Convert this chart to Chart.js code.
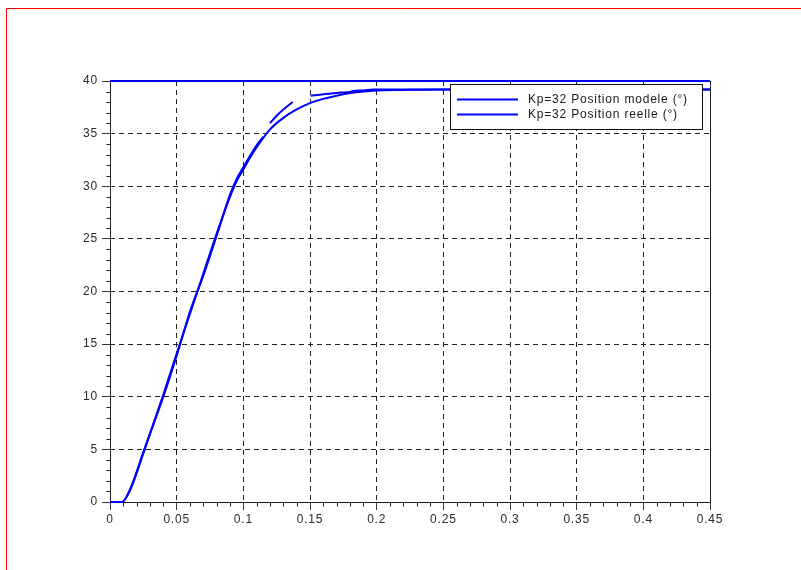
<!DOCTYPE html>
<html>
<head>
<meta charset="utf-8">
<script src="https://cdn.jsdelivr.net/npm/chart.js@4.4.1/dist/chart.umd.min.js"></script>
<style>
  html, body { margin: 0; padding: 0; background: #fff; }
  canvas { display: block; }
</style>
</head>
<body>
<canvas id="position_chart" width="801" height="570"></canvas>
<script>
// values (time in s, position in degrees)
const timeModel = [0, 0.009, 0.015, 0.026, 0.04, 0.05, 0.06, 0.07, 0.08, 0.09, 0.095, 0.1, 0.105, 0.11, 0.12, 0.13, 0.14, 0.15, 0.16, 0.17, 0.18, 0.19, 0.2, 0.22, 0.25, 0.3, 0.35, 0.4, 0.45];
const positionModel = [0, 0, 1.1, 5, 10.2, 14.1, 17.9, 21.7, 25.5, 29.0, 30.5, 31.6, 32.7, 33.7, 35.4, 36.5, 37.3, 37.9, 38.3, 38.6, 38.85, 39.0, 39.1, 39.15, 39.2, 39.2, 39.2, 39.2, 39.2];

// measured curve, null = hole in the trace
const timeReal = [0, 0.009, 0.015, 0.026, 0.04, 0.05, 0.06, 0.07, 0.08, 0.09, 0.095, 0.1, 0.105, 0.11, 0.115, 0.118, 0.12, 0.125, 0.13, 0.137, 0.145, 0.1505, 0.16, 0.17, 0.1725, 0.18, 0.182, 0.19, 0.197, 0.25, 0.3, 0.35, 0.4, 0.45];
const positionReal = [0, 0, 1.2, 5.1, 10.0, 13.9, 18.1, 21.5, 25.3, 29.2, 30.7, 31.8, 32.9, 33.9, 34.7, null, 36.0, 36.7, 37.3, 38.0, null, 38.6, 38.75, 38.85, 38.9, 38.95, 39.05, 39.1, 39.2, 39.2, 39.2, 39.2, 39.2, 39.2];

const timeSetpoint = [0, 0.45];
const positionSetpoint = [40, 40];

const seriesLabels = ['Kp=32 Position modele (°)', 'Kp=32 Position reelle (°)'];
const xTickLabels = ['0', '0.05', '0.1', '0.15', '0.2', '0.25', '0.3', '0.35', '0.4', '0.45'];
const yTickLabels = ['0', '5', '10', '15', '20', '25', '30', '35', '40'];

const blue = '#0000ff';
const fontFamily = '"Liberation Sans", Arial, sans-serif';

function toPoints(xs, ys) {
  return xs.map((x, i) => ({ x: x, y: ys[i] }));
}

// white page, red figure border, axes box, minor ticks, legend
const scilabLook = {
  id: 'scilabLook',
  beforeDraw(chart) {
    const ctx = chart.ctx;
    ctx.letterSpacing = '0.8px';
    ctx.save();
    ctx.fillStyle = '#fff';
    ctx.fillRect(0, 0, chart.width, chart.height);
    ctx.strokeStyle = '#ff0000';
    ctx.lineWidth = 1;
    ctx.beginPath();
    ctx.moveTo(6.5, chart.height);
    ctx.lineTo(6.5, 8.5);
    ctx.lineTo(chart.width, 8.5);
    ctx.stroke();
    ctx.restore();
  },
  beforeDatasetsDraw(chart) {
    const ctx = chart.ctx;
    const a = chart.chartArea;
    const xs = chart.scales.x;
    const ys = chart.scales.y;
    const l = Math.round(a.left) + 0.5, r = Math.round(a.right) + 0.5;
    const t = Math.round(a.top) + 0.5, b = Math.round(a.bottom) + 0.5;
    ctx.save();
    ctx.strokeStyle = '#222';
    ctx.lineWidth = 1;
    ctx.strokeRect(l, t, r - l, b - t);
    ctx.beginPath();
    for (let i = 0; i < xTickLabels.length - 1; i++) {
      for (let k = 1; k < 5; k++) {
        const px = Math.round(xs.getPixelForValue(0.05 * i + 0.01 * k)) + 0.5;
        ctx.moveTo(px, b);
        ctx.lineTo(px, b + 4);
      }
    }
    for (let i = 0; i < yTickLabels.length - 1; i++) {
      for (let k = 1; k < 5; k++) {
        const py = Math.round(ys.getPixelForValue(5 * i + k)) + 0.5;
        ctx.moveTo(l, py);
        ctx.lineTo(l - 4, py);
      }
    }
    ctx.stroke();
    ctx.restore();
  },
  afterDatasetsDraw(chart) {
    const ctx = chart.ctx;
    const a = chart.chartArea;
    const boxW = 252, boxH = 45;
    const bx = a.right - 8 - boxW;
    const by = a.top + 3;
    ctx.save();
    ctx.fillStyle = '#fff';
    ctx.fillRect(bx, by, boxW, boxH);
    ctx.strokeStyle = '#111';
    ctx.lineWidth = 1;
    ctx.strokeRect(bx + 0.5, by + 0.5, boxW, boxH);
    ctx.font = '12px ' + fontFamily;
    ctx.textBaseline = 'middle';
    ctx.textAlign = 'left';
    seriesLabels.forEach((label, i) => {
      const ly = by + 15.5 + i * 15;
      ctx.strokeStyle = blue;
      ctx.lineWidth = 2;
      ctx.beginPath();
      ctx.moveTo(bx + 7, ly);
      ctx.lineTo(bx + 68, ly);
      ctx.stroke();
      ctx.fillStyle = '#1a1a1a';
      ctx.fillText(label, bx + 78, ly);
    });
    ctx.restore();
  }
};

const ctx = document.getElementById('position_chart');

new Chart(ctx, {
  type: 'line',
  data: {
    datasets: [
      {
        label: 'consigne',
        data: toPoints(timeSetpoint, positionSetpoint),
        borderColor: blue,
        borderWidth: 2,
        pointRadius: 0,
        clip: 4
      },
      {
        label: seriesLabels[0],
        data: toPoints(timeModel, positionModel),
        borderColor: blue,
        borderWidth: 2,
        pointRadius: 0,
        cubicInterpolationMode: 'monotone',
        clip: 4
      },
      {
        label: seriesLabels[1],
        data: toPoints(timeReal, positionReal),
        borderColor: blue,
        borderWidth: 2,
        pointRadius: 0,
        spanGaps: false,
        cubicInterpolationMode: 'monotone',
        clip: 4
      }
    ]
  },
  options: {
    responsive: false,
    animation: false,
    devicePixelRatio: 1,
    layout: { padding: { left: 50, top: 81, right: 91, bottom: 38 } },
    plugins: {
      legend: { display: false },
      tooltip: { enabled: false }
    },
    scales: {
      x: {
        type: 'linear',
        min: 0,
        max: 0.45,
        afterFit(scale) { scale.height = 30; },
        ticks: {
          stepSize: 0.05,
          autoSkip: false,
          maxRotation: 0,
          padding: 2,
          color: '#2a2a2a',
          font: { family: fontFamily, size: 12 },
          callback: (v, i) => xTickLabels[i]
        },
        grid: { color: '#222', tickColor: '#333', tickLength: 8, lineWidth: 1 },
        border: { display: false, dash: [5, 4] }
      },
      y: {
        min: 0,
        max: 40,
        afterFit(scale) { scale.width = 60; },
        ticks: {
          stepSize: 5,
          autoSkip: false,
          padding: 4,
          color: '#2a2a2a',
          font: { family: fontFamily, size: 12 },
          callback: (v, i) => yTickLabels[i]
        },
        grid: { color: '#222', tickColor: '#333', tickLength: 8, lineWidth: 1 },
        border: { display: false, dash: [5, 4] }
      }
    }
  },
  plugins: [scilabLook]
});
</script>
</body>
</html>
